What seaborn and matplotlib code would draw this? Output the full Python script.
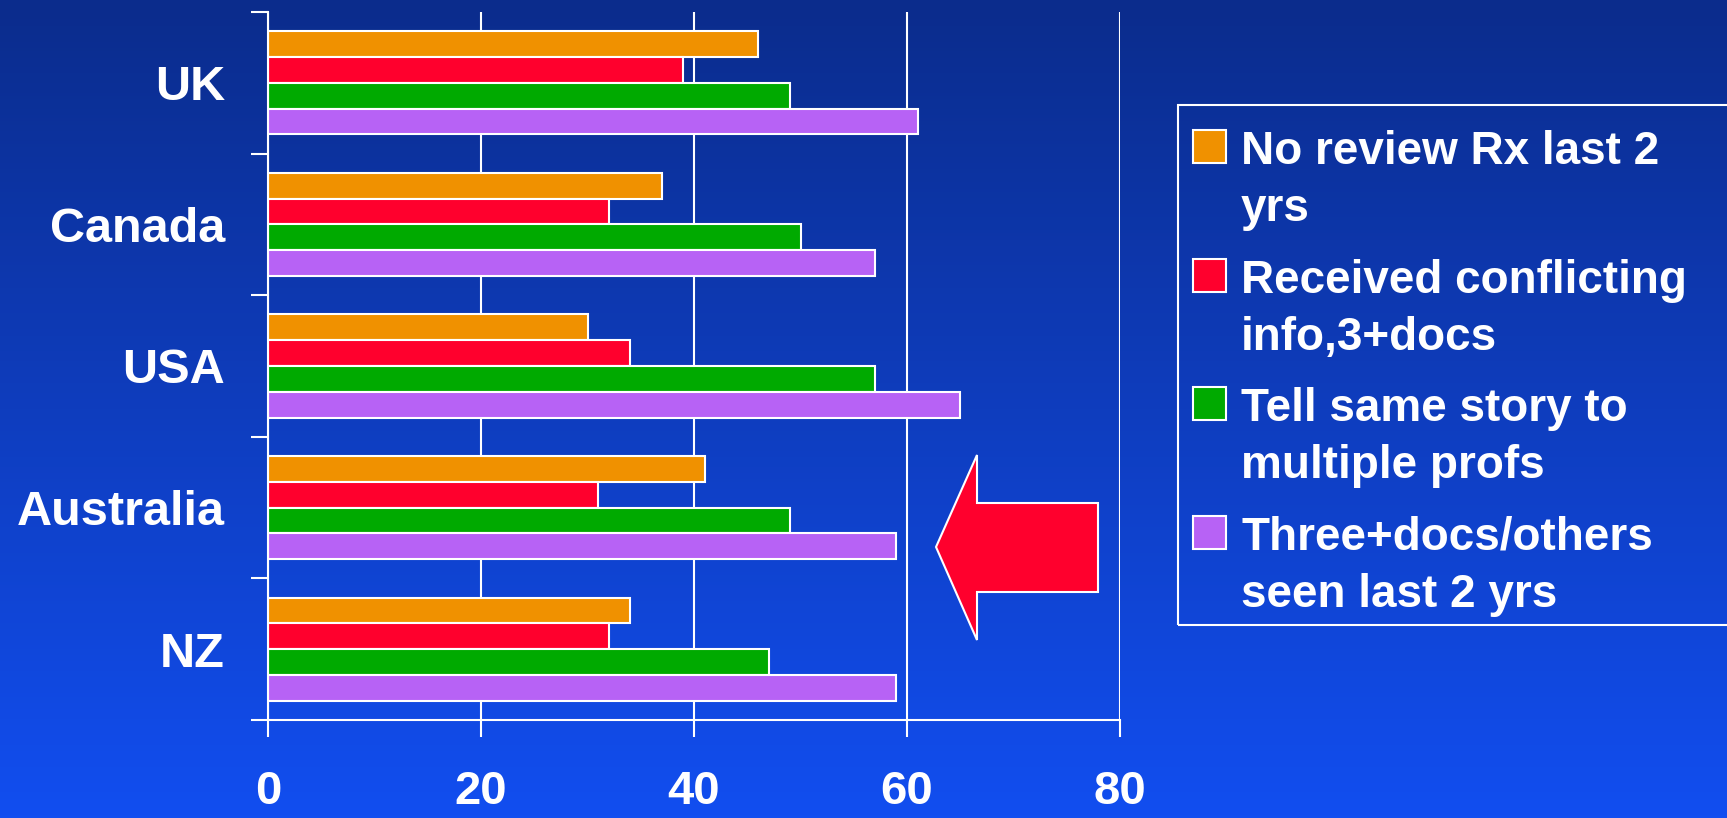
import numpy as np
import pandas as pd
import matplotlib.pyplot as plt
from matplotlib.patches import Polygon, Rectangle
import seaborn as sns

countries = ['UK', 'Canada', 'USA', 'Australia', 'NZ']
series = ['No review Rx last 2 yrs', 'Received conflicting info,3+docs',
          'Tell same story to multiple profs', 'Three+docs/others seen last 2 yrs']
legend_labels = ['No review Rx last 2\nyrs', 'Received conflicting\ninfo,3+docs',
                 'Tell same story to\nmultiple profs', 'Three+docs/others\nseen last 2 yrs']
no_review = [46, 37, 30, 41, 34]
conflicting = [39, 32, 34, 31, 32]
same_story = [49, 50, 57, 49, 47]
three_docs = [61, 57, 65, 59, 59]
colors = ['#F09100', '#FF002D', '#00AA00', '#B762F5']
xticks = [0, 20, 40, 60, 80]

df = pd.DataFrame({
    'country': countries * 4,
    'series': np.repeat(series, len(countries)),
    'value': no_review + conflicting + same_story + three_docs,
})

sns.set_style('ticks')
plt.rcParams['font.family'] = ['Liberation Sans', 'DejaVu Sans']
plt.rcParams['font.weight'] = 'bold'

W, H = 1727, 818
fig = plt.figure(figsize=(W / 100, H / 100), dpi=100)

# background gradient (dark navy at top -> bright blue at bottom)
bg = fig.add_axes([0, 0, 1, 1], zorder=-1)
top = np.array([11, 44, 140]) / 255
bot = np.array([18, 78, 240]) / 255
t = np.linspace(0, 1, 256)[:, None]
grad = top[None, :] * (1 - t) + bot[None, :] * t
bg.imshow(grad[:, None, :], aspect='auto', extent=[0, 1, 0, 1])
bg.axis('off')

def fx(px):
    return px / W

def fy(py):
    return 1 - py / H

ax = fig.add_axes([fx(268), fy(720), (1120 - 268) / W, (720 - 12) / H], zorder=1)
ax.set_facecolor('none')

sns.barplot(data=df, x='value', y='country', hue='series', hue_order=series,
            order=countries, palette=colors, orient='h', width=0.73,
            saturation=1, edgecolor='white', linewidth=1.5, legend=False, ax=ax)

ax.set_xlim(0, 80)
ax.set_ylim(4.5, -0.5)
ax.set_xticks(xticks)
ax.set_xticklabels([str(v) for v in xticks])
ax.set_yticks(range(len(countries)))
ax.set_yticklabels(countries)
ax.set_yticks(np.arange(-0.5, len(countries), 1), minor=True)
ax.tick_params(axis='y', which='major', length=0, pad=31, labelsize=35, labelcolor='white')
ax.tick_params(axis='y', which='minor', length=12, width=1.5, color='white', direction='out')
ax.tick_params(axis='x', length=12, width=1.5, color='white', direction='out', pad=24,
               labelsize=34, labelcolor='white')
ax.grid(axis='x', color='white', linewidth=1.5)
ax.set_axisbelow(True)
ax.set_xlabel('')
ax.set_ylabel('')
for s in ['top', 'right']:
    ax.spines[s].set_visible(False)
for s in ['left', 'bottom']:
    ax.spines[s].set_color('white')
    ax.spines[s].set_linewidth(1.5)

# red arrow pointing at Australia
pts = [(936, 547), (977, 455), (977, 503), (1098, 503), (1098, 592), (977, 592), (977, 640)]
arrow = Polygon([(fx(x), fy(y)) for x, y in pts], closed=True, facecolor='#FF002D',
                edgecolor='white', linewidth=1.5, transform=fig.transFigure)
fig.add_artist(arrow)

# legend box
frame = Rectangle((fx(1178), fy(625)), 600 / W, (625 - 105) / H, fill=False,
                  edgecolor='white', linewidth=1.5, transform=fig.transFigure)
fig.add_artist(frame)
for i, (lab, c) in enumerate(zip(legend_labels, colors)):
    y0 = 130 + i * 128.6
    sq = Rectangle((fx(1193), fy(y0 + 33)), 33 / W, 33 / H, facecolor=c,
                   edgecolor='white', linewidth=1.5, transform=fig.transFigure)
    fig.add_artist(sq)
    fig.text(fx(1241), fy(y0), lab, color='white', fontsize=33, fontweight='bold',
             va='top', ha='left', linespacing=1.38)

fig.savefig('out.png', dpi=100)
